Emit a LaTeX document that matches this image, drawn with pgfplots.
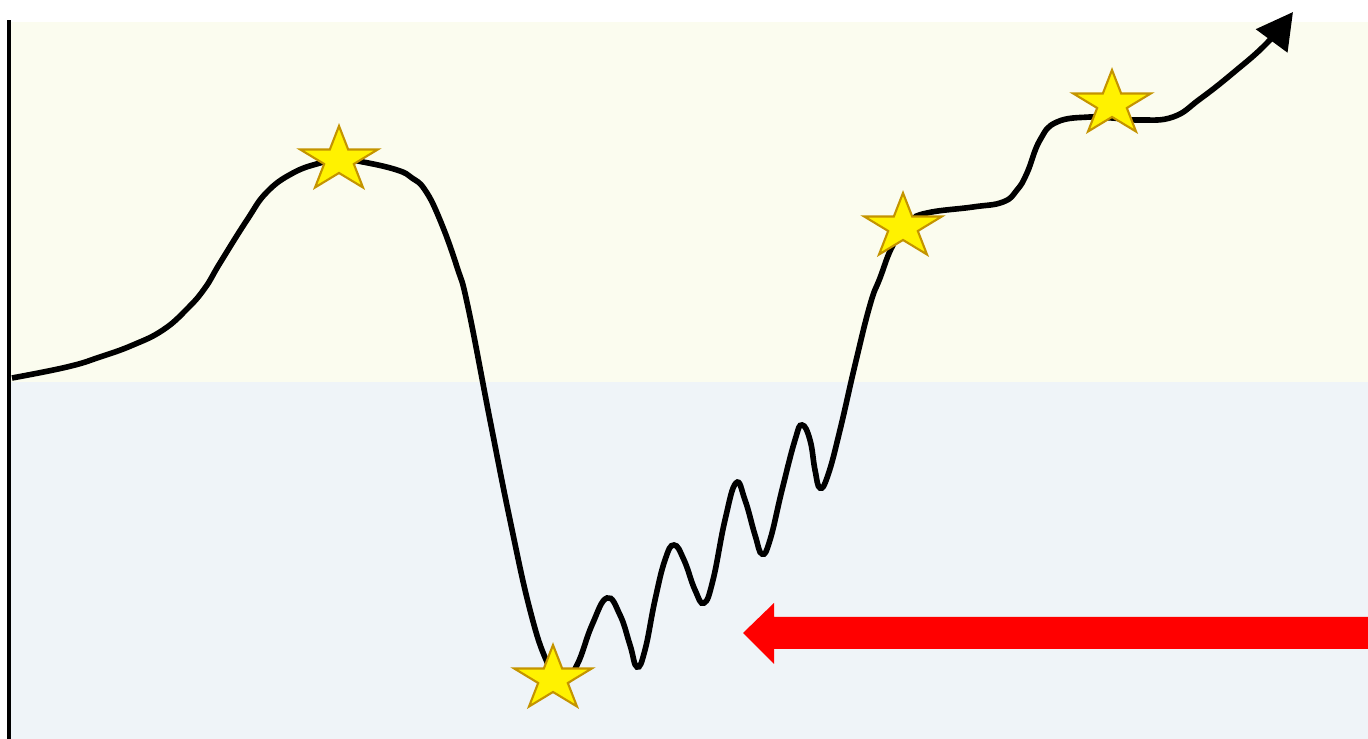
\documentclass[border=0pt]{standalone}
\usepackage{pgfplots}
\pgfplotsset{compat=1.18}
\usetikzlibrary{arrows.meta}

\definecolor{bgyellow}{HTML}{FBFCEF}
\definecolor{bgblue}{HTML}{EFF4F8}
\definecolor{starborder}{HTML}{C49400}

% filled five-pointed star mark
\pgfdeclareplotmark{fstar}{%
  \pgfpathmoveto{\pgfpointpolar{90}{\pgfplotmarksize}}%
  \pgfpathlineto{\pgfpointpolar{126}{0.382\pgfplotmarksize}}%
  \pgfpathlineto{\pgfpointpolar{162}{\pgfplotmarksize}}%
  \pgfpathlineto{\pgfpointpolar{198}{0.382\pgfplotmarksize}}%
  \pgfpathlineto{\pgfpointpolar{234}{\pgfplotmarksize}}%
  \pgfpathlineto{\pgfpointpolar{270}{0.382\pgfplotmarksize}}%
  \pgfpathlineto{\pgfpointpolar{306}{\pgfplotmarksize}}%
  \pgfpathlineto{\pgfpointpolar{342}{0.382\pgfplotmarksize}}%
  \pgfpathlineto{\pgfpointpolar{18}{\pgfplotmarksize}}%
  \pgfpathlineto{\pgfpointpolar{54}{0.382\pgfplotmarksize}}%
  \pgfpathclose
  \pgfusepathqfillstroke
}

\begin{document}
\begin{tikzpicture}
\begin{axis}[
  scale only axis,
  width=136.8mm, height=73.9mm,
  xmin=0, xmax=1368, ymin=0, ymax=739,
  hide axis,
]
% page background
\addplot[fill=white, draw=none] coordinates {(0,0) (1368,0) (1368,739) (0,739)};
% two bands
\addplot[fill=bgyellow, draw=none] coordinates {(11,717) (1368,717) (1368,357) (11,357)};
\addplot[fill=bgblue, draw=none] coordinates {(11,357) (1368,357) (1368,0) (11,0)};
% left axis line
\addplot[black, line width=1pt] coordinates {(9,0) (9,719)};

% the curve (y = 739 - pixel row)
\addplot[black, line width=1.6pt, smooth, tension=0.75, -{Triangle[length=3.6mm,width=3.8mm]}] coordinates {
  (12,361) (67,372) (100,382) (133,394) (163,409) (187,430) (205,451)
  (220,476) (247,519) (267,547) (293,566) (320,576) (339,580) (363,577)
  (397,569) (412,561) (425,549) (440,519) (457,472) (468,432) (490,319)
  (510,219) (530,129) (547,77) (562,56) (577,74) (592,114) (607,141)
  (620,124) (630,94) (637,72) (645,89) (655,139) (665,179) (674,194)
  (684,179) (695,149) (704,136) (713,159) (725,219) (736,256) (745,239)
  (755,204) (762,185) (770,199) (782,249) (795,299) (802,314) (810,299)
  (815,269) (820,251) (828,264) (840,309) (855,374) (870,434) (880,461)
  (893,494) (910,517) (927,526) (973,532) (1003,537) (1017,549) (1027,566)
  (1040,599) (1057,617) (1090,622) (1112,621) (1140,619) (1173,622)
  (1200,640) (1233,666) (1267,696) (1293,727)
};

% red arrow
\addplot[fill=red, draw=none] coordinates {
  (1368,122) (774,122) (774,136) (743,106) (774,75) (774,90) (1368,90)
};

% stars
\addplot[only marks, mark=fstar, mark size=3.4mm,
  mark options={xscale=1.2, fill=yellow, draw=starborder, line width=0.6pt}]
  coordinates {(339,579) (553,60) (903,512) (1112,635)};
\end{axis}
\end{tikzpicture}
\end{document}
